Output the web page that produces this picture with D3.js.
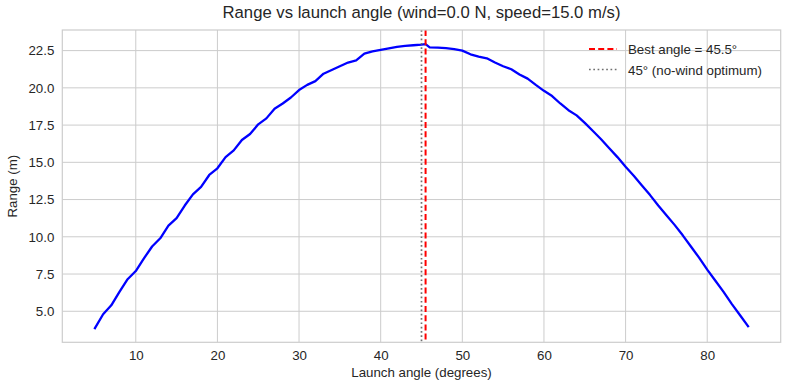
<!DOCTYPE html>
<html lang="en">
<head>
<meta charset="utf-8">
<title>Range vs launch angle</title>
<script src="https://cdn.jsdelivr.net/npm/d3@7"></script>
<style>
  body { margin: 0; background: #fff; }
  svg text { font-family: "Liberation Sans", Arial, sans-serif; fill: #262626; }
</style>
</head>
<body>
<svg id="chart" width="790" height="390"></svg>
<script>

// launch angles (degrees) and simulated range (m)
var angles = [5, 6, 7, 8, 9, 10, 11, 12, 13, 14, 15, 16, 17, 18, 19, 20,
  21, 22, 23, 24, 25, 26, 27, 28, 29, 30, 31, 32, 33, 34, 35, 36, 37, 38, 39, 40,
  41, 42, 43, 44, 45, 45.5, 46, 47, 48, 49, 50, 51, 52, 53, 54, 55, 56, 57, 58, 59, 60,
  61, 62, 63, 64, 65, 66, 67, 68, 69, 70, 71, 72, 73, 74, 75, 76, 77, 78, 79, 80,
  81, 82, 83, 84, 85];

var ranges = [3.87, 4.80, 5.40, 6.30, 7.15, 7.70, 8.55, 9.35, 9.90, 10.75, 11.25, 12.10, 12.85, 13.35, 14.15, 14.60,
  15.35, 15.80, 16.50, 16.90, 17.55, 17.95, 18.60, 18.95, 19.35, 19.85, 20.20, 20.45, 20.95, 21.20, 21.45, 21.70, 21.85, 22.30, 22.45, 22.55,
  22.65, 22.75, 22.82, 22.86, 22.90, 22.93, 22.72, 22.70, 22.66, 22.60, 22.50, 22.25, 22.10, 21.98, 21.70, 21.45, 21.25, 20.90, 20.62, 20.20, 19.80,
  19.45, 18.95, 18.50, 18.15, 17.65, 17.10, 16.55, 15.95, 15.35, 14.70, 14.10, 13.45, 12.80, 12.10, 11.45, 10.80, 10.10, 9.35, 8.60, 7.80,
  7.05, 6.30, 5.50, 4.75, 4.00];

var xTicks = [10, 20, 30, 40, 50, 60, 70, 80];
var yTicks = [5.0, 7.5, 10.0, 12.5, 15.0, 17.5, 20.0, 22.5];

var bestAngle = 45.5;
var noWindAngle = 45;

var margin = { top: 30, right: 9.3, bottom: 47.7, left: 62.3 };
var W = 790, H = 390;
var w = W - margin.left - margin.right;
var h = H - margin.top - margin.bottom;

var svg = d3.select("#chart");
var g = svg.append("g").attr("transform", "translate(" + margin.left + "," + margin.top + ")");

// matplotlib-style 5% padding
var yMin = d3.min(ranges), yMax = d3.max(ranges);
var pad = (yMax - yMin) * 0.05;

var x = d3.scaleLinear().domain([1, 89]).range([0, w]);
var y = d3.scaleLinear().domain([yMin - pad, yMax + pad]).range([h, 0]);

// grid
g.append("g").selectAll("line")
  .data(xTicks).enter().append("line")
  .attr("x1", function(d) { return x(d); })
  .attr("x2", function(d) { return x(d); })
  .attr("y1", 0).attr("y2", h)
  .attr("stroke", "#cccccc").attr("stroke-width", 1);

g.append("g").selectAll("line")
  .data(yTicks).enter().append("line")
  .attr("y1", function(d) { return y(d); })
  .attr("y2", function(d) { return y(d); })
  .attr("x1", 0).attr("x2", w)
  .attr("stroke", "#cccccc").attr("stroke-width", 1);

// axes (labels only, no tick marks)
var xAxis = g.append("g")
  .attr("transform", "translate(0," + h + ")")
  .call(d3.axisBottom(x).tickValues(xTicks).tickSize(0).tickPadding(8));
var yAxis = g.append("g")
  .call(d3.axisLeft(y).tickValues(yTicks).tickSize(0).tickPadding(8).tickFormat(d3.format(".1f")));

[xAxis, yAxis].forEach(function(a) {
  a.select(".domain").remove();
  a.selectAll("text")
    .style("font-size", "13.3px")
    .style("font-family", "'Liberation Sans', Arial, sans-serif")
    .attr("fill", "#262626");
});

// the range curve
var line = d3.line()
  .x(function(d, i) { return x(angles[i]); })
  .y(function(d) { return y(d); });

g.append("path")
  .datum(ranges)
  .attr("d", line)
  .attr("fill", "none")
  .attr("stroke", "#0000ff")
  .attr("stroke-width", 2.3)
  .attr("stroke-linejoin", "round")
  .attr("stroke-linecap", "square");

// reference lines
g.append("line")
  .attr("x1", x(noWindAngle)).attr("x2", x(noWindAngle))
  .attr("y1", 0).attr("y2", h)
  .attr("stroke", "#707070").attr("stroke-width", 1.7)
  .attr("stroke-dasharray", "1.7,2.6");

g.append("line")
  .attr("x1", x(bestAngle)).attr("x2", x(bestAngle))
  .attr("y1", 0).attr("y2", h)
  .attr("stroke", "#ff0000").attr("stroke-width", 2)
  .attr("stroke-dasharray", "6,3.2");

// frame
g.append("rect")
  .attr("width", w).attr("height", h)
  .attr("fill", "none")
  .attr("stroke", "#cccccc").attr("stroke-width", 1.2);

// legend
var legendItems = [
  { label: "Best angle = 45.5\u00b0", color: "#ff0000", dash: "6,3.2", width: 2 },
  { label: "45\u00b0 (no-wind optimum)", color: "#707070", dash: "1.7,2.6", width: 1.7 }
];

var legend = svg.append("g").attr("transform", "translate(589,49)");
legend.selectAll("g")
  .data(legendItems).enter().append("g")
  .attr("transform", function(d, i) { return "translate(0," + (i * 20.5) + ")"; })
  .each(function(d) {
    var item = d3.select(this);
    item.append("line")
      .attr("x1", 0).attr("x2", 28).attr("y1", 0).attr("y2", 0)
      .attr("stroke", d.color).attr("stroke-width", d.width)
      .attr("stroke-dasharray", d.dash);
    item.append("text")
      .attr("x", 39).attr("y", 5)
      .style("font-size", "13.3px")
      .text(d.label);
  });

// titles
svg.append("text")
  .attr("x", margin.left + w / 2).attr("y", 18)
  .attr("text-anchor", "middle")
  .style("font-size", "16.7px")
  .text("Range vs launch angle (wind=0.0 N, speed=15.0 m/s)");

svg.append("text")
  .attr("x", margin.left + w / 2).attr("y", 377)
  .attr("text-anchor", "middle")
  .style("font-size", "13.3px")
  .text("Launch angle (degrees)");

svg.append("text")
  .attr("transform", "translate(17," + (margin.top + h / 2) + ") rotate(-90)")
  .attr("text-anchor", "middle")
  .style("font-size", "13.3px")
  .text("Range (m)");

</script>
</body>
</html>
